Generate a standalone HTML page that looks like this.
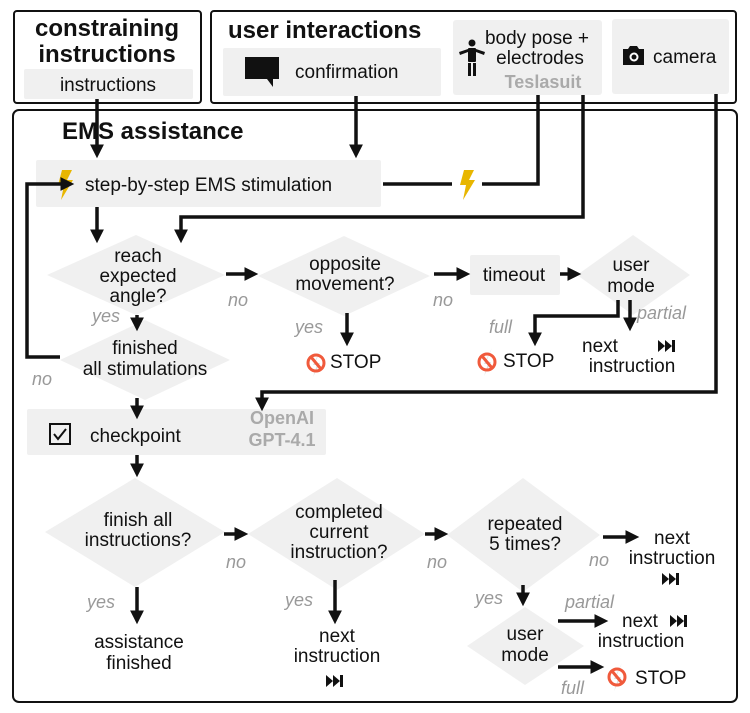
<!DOCTYPE html>
<html><head><meta charset="utf-8"><style>
html,body{margin:0;padding:0;background:#fff}
svg{display:block}
text{font-family:"Liberation Sans",sans-serif;fill:#111}
.t{font-size:19px}
.b{font-weight:bold}
.g{fill:#999;font-style:italic;font-size:18px}
.gb{fill:#aaa;font-weight:bold;font-size:18px}
.ln{stroke:#111;stroke-width:3.5;fill:none}
.bx{stroke:#111;stroke-width:2;fill:none}
.gr{fill:#f0f0f0}
</style></head><body>
<svg width="750" height="713" viewBox="0 0 750 713" xmlns="http://www.w3.org/2000/svg">
<defs>
<marker id="a" markerWidth="4" markerHeight="4" refX="2.2" refY="2" orient="auto" markerUnits="strokeWidth"><path d="M0,0 L4,2 L0,4 z" fill="#111"/></marker>
<g id="bolt"><path d="M4,0 L14,0 L9,10 L15,10 L3,30 L6,15 L0,15 z" fill="#e8b600"/></g>
<g id="stop"><path d="M14,-12 L8,2 L13,2 L6,16 L10,4 L6,4 z" fill="#ddd"/><circle cx="9" cy="2" r="8" fill="none" stroke="#f05a3c" stroke-width="3"/><line x1="4" y1="-4" x2="14" y2="8" stroke="#f05a3c" stroke-width="3"/></g>
<g id="ff"><path d="M0,0 L7,6 L0,12 z M7,0 L14,6 L7,12 z" fill="#111"/><rect x="14" y="0" width="3" height="12" fill="#111"/></g>
</defs>

<!-- shapes first -->
<rect class="gr" x="24" y="69" width="169" height="30" rx="2"/>
<rect class="gr" x="223" y="48" width="218" height="48" rx="2"/>
<rect class="gr" x="453" y="20" width="149" height="75" rx="3"/>
<rect class="gr" x="612" y="19" width="117" height="75" rx="3"/>
<rect class="gr" x="36" y="160" width="345" height="47" rx="2"/>
<polygon class="gr" points="47,275 136,235 225,275 136,315"/>
<polygon class="gr" points="258,276 344,236 430,276 344,316"/>
<rect class="gr" x="470" y="255" width="90" height="40" rx="2"/>
<polygon class="gr" points="577,275 633,235 690,275 633,315"/>
<polygon class="gr" points="60,360 145,320 230,360 145,400"/>
<rect class="gr" x="27" y="409" width="299" height="46" rx="2"/>
<polygon class="gr" points="45,532 135,478 225,532 135,587"/>
<polygon class="gr" points="248,534 337,478 425,534 337,590"/>
<polygon class="gr" points="447,535 523,478 600,535 523,592"/>
<polygon class="gr" points="467,646 525,607 584,646 525,685"/>

<!-- boxes -->
<rect class="bx" x="14" y="11" width="187" height="92" rx="3"/>
<rect class="bx" x="211" y="11" width="525" height="92" rx="3"/>
<rect class="bx" x="13" y="110" width="724" height="592" rx="6"/>

<text class="b" x="107" y="36" font-size="24" text-anchor="middle">constraining</text>
<text class="b" x="107" y="62" font-size="24" text-anchor="middle">instructions</text>
<text class="t" x="108" y="91" text-anchor="middle">instructions</text>

<text class="b" x="228" y="38" font-size="24">user interactions</text>
<path d="M245,57 h34 v22 h-6 v8 l-6,-8 h-22 z" fill="#111"/>
<text class="t" x="295" y="78">confirmation</text>

<g fill="#111"><circle cx="472" cy="43" r="3.5"/><rect x="468" y="48" width="8" height="14" rx="1"/><path d="M459,52 l9,-3 v3 l-8,3 z M485,52 l-9,-3 v3 l8,3 z"/><rect x="468" y="63" width="3" height="13"/><rect x="473" y="63" width="3" height="13"/></g>
<text class="t" x="537" y="44" text-anchor="middle">body pose +</text>
<text class="t" x="540" y="64" text-anchor="middle">electrodes</text>
<text class="gb" x="543" y="88" text-anchor="middle">Teslasuit</text>

<path d="M623,49 h5 l2,-3 h7 l2,3 h5 v16 h-21 z" fill="#111"/><circle cx="634" cy="57" r="4.5" fill="#fff"/><circle cx="634" cy="57" r="2.5" fill="#111"/>
<text class="t" x="653" y="63">camera</text>

<text class="b" x="62" y="139" font-size="24">EMS assistance</text>

<use href="#bolt" x="58" y="170"/>
<text class="t" x="85" y="191">step-by-step EMS stimulation</text>

<line class="ln" x1="97" y1="99" x2="97" y2="152" marker-end="url(#a)"/>
<line class="ln" x1="356" y1="96" x2="356" y2="152" marker-end="url(#a)"/>
<path class="ln" d="M538,95 V184 H482"/>
<use href="#bolt" x="460" y="170"/>
<line class="ln" x1="383" y1="184" x2="452" y2="184"/>
<path class="ln" d="M583,95 V217 H181 V237" marker-end="url(#a)"/>
<line class="ln" x1="97" y1="207" x2="97" y2="237" marker-end="url(#a)"/>

<text class="t" x="138" y="262" text-anchor="middle">reach</text>
<text class="t" x="138" y="282" text-anchor="middle">expected</text>
<text class="t" x="138" y="302" text-anchor="middle">angle?</text>
<line class="ln" x1="226" y1="274" x2="252" y2="274" marker-end="url(#a)"/>
<text class="g" x="228" y="306">no</text>

<text class="t" x="345" y="270" text-anchor="middle">opposite</text>
<text class="t" x="345" y="290" text-anchor="middle">movement?</text>
<line class="ln" x1="347" y1="313" x2="347" y2="340" marker-end="url(#a)"/>
<text class="g" x="295" y="333">yes</text>
<use href="#stop" x="307" y="361"/>
<text class="t" x="330" y="368">STOP</text>

<line class="ln" x1="434" y1="274" x2="464" y2="274" marker-end="url(#a)"/>
<text class="g" x="433" y="306">no</text>
<text class="t" x="514" y="281" text-anchor="middle">timeout</text>
<line class="ln" x1="560" y1="274" x2="575" y2="274" marker-end="url(#a)"/>
<text class="t" x="631" y="271" text-anchor="middle">user</text>
<text class="t" x="631" y="292" text-anchor="middle">mode</text>
<path class="ln" d="M618,300 V316 H535 V340" marker-end="url(#a)"/>
<line class="ln" x1="630" y1="300" x2="630" y2="325" marker-end="url(#a)"/>
<text class="g" x="489" y="333">full</text>
<text class="g" x="637" y="319">partial</text>
<use href="#stop" x="478" y="360"/>
<text class="t" x="503" y="367">STOP</text>
<text class="t" x="582" y="352">next</text>
<use href="#ff" x="658" y="340"/>
<text class="t" x="632" y="372" text-anchor="middle">instruction</text>

<text class="g" x="92" y="322">yes</text>
<line class="ln" x1="137" y1="315" x2="137" y2="325" marker-end="url(#a)"/>
<text class="t" x="145" y="354" text-anchor="middle">finished</text>
<text class="t" x="145" y="375" text-anchor="middle">all stimulations</text>
<path class="ln" d="M60,357 H27 V184 H68" marker-end="url(#a)"/>
<text class="g" x="32" y="385">no</text>
<line class="ln" x1="137" y1="398" x2="137" y2="413" marker-end="url(#a)"/>

<path class="ln" d="M716,94 V392 H262 V405" marker-end="url(#a)"/>

<rect x="50" y="424" width="20" height="20" fill="none" stroke="#111" stroke-width="2"/>
<path d="M54,434 l4,5 l8,-10" fill="none" stroke="#111" stroke-width="2"/>
<text class="t" x="90" y="442">checkpoint</text>
<text class="gb" x="282" y="424" text-anchor="middle">OpenAI</text>
<text class="gb" x="282" y="446" text-anchor="middle">GPT-4.1</text>
<line class="ln" x1="137" y1="455" x2="137" y2="471" marker-end="url(#a)"/>

<text class="t" x="138" y="526" text-anchor="middle">finish all</text>
<text class="t" x="138" y="546" text-anchor="middle">instructions?</text>
<line class="ln" x1="224" y1="534" x2="242" y2="534" marker-end="url(#a)"/>
<text class="g" x="226" y="568">no</text>
<text class="g" x="87" y="608">yes</text>
<line class="ln" x1="137" y1="587" x2="137" y2="618" marker-end="url(#a)"/>
<text class="t" x="139" y="648" text-anchor="middle">assistance</text>
<text class="t" x="139" y="669" text-anchor="middle">finished</text>

<text class="t" x="339" y="518" text-anchor="middle">completed</text>
<text class="t" x="339" y="538" text-anchor="middle">current</text>
<text class="t" x="339" y="558" text-anchor="middle">instruction?</text>
<line class="ln" x1="335" y1="580" x2="335" y2="618" marker-end="url(#a)"/>
<text class="g" x="285" y="606">yes</text>
<text class="t" x="337" y="642" text-anchor="middle">next</text>
<text class="t" x="337" y="662" text-anchor="middle">instruction</text>
<use href="#ff" x="326" y="675"/>

<line class="ln" x1="425" y1="534" x2="442" y2="534" marker-end="url(#a)"/>
<text class="g" x="427" y="568">no</text>
<text class="t" x="525" y="530" text-anchor="middle">repeated</text>
<text class="t" x="525" y="550" text-anchor="middle">5 times?</text>
<line class="ln" x1="603" y1="537" x2="633" y2="537" marker-end="url(#a)"/>
<text class="g" x="589" y="566">no</text>
<text class="t" x="672" y="544" text-anchor="middle">next</text>
<text class="t" x="672" y="564" text-anchor="middle">instruction</text>
<use href="#ff" x="662" y="573"/>
<text class="g" x="475" y="604">yes</text>
<line class="ln" x1="523" y1="585" x2="523" y2="600" marker-end="url(#a)"/>

<text class="t" x="525" y="640" text-anchor="middle">user</text>
<text class="t" x="525" y="661" text-anchor="middle">mode</text>
<line class="ln" x1="558" y1="621" x2="602" y2="621" marker-end="url(#a)"/>
<text class="g" x="565" y="608">partial</text>
<text class="t" x="622" y="627">next</text>
<use href="#ff" x="670" y="615"/>
<text class="t" x="641" y="647" text-anchor="middle">instruction</text>
<line class="ln" x1="558" y1="667" x2="598" y2="667" marker-end="url(#a)"/>
<text class="g" x="561" y="694">full</text>
<use href="#stop" x="608" y="675"/>
<text class="t" x="635" y="684">STOP</text>
</svg>
</body></html>
